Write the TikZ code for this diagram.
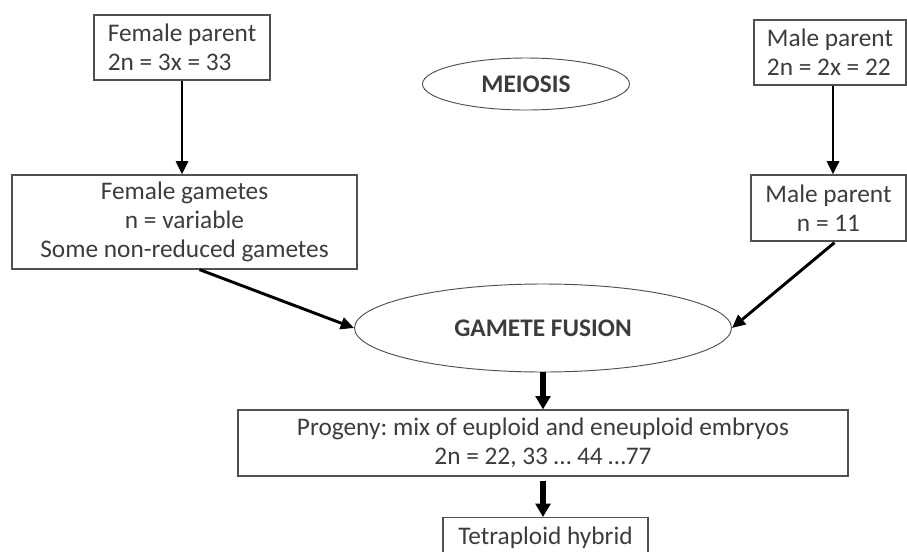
\documentclass[tikz,border=0pt]{standalone}
\usepackage{fontspec}
\setmainfont{Carlito}
\frenchspacing
\usetikzlibrary{shapes.geometric,arrows.meta}

\definecolor{txtgray}{RGB}{60,60,60}
\definecolor{boxgray}{RGB}{80,80,80}

\tikzset{every picture/.style={line width=0.75pt}}
\tikzset{
  boxnode/.style={draw=boxgray, line width=0.9pt, text=txtgray, font=\fontsize{19}{22}\selectfont, inner sep=0pt},
  ovalnode/.style={draw=boxgray, ellipse, line width=0.7pt, text=txtgray, font=\fontsize{19}{22}\selectfont\bfseries, inner sep=0pt},
  thinarrow/.style={line width=2.2pt, -{Triangle[length=10pt,width=9pt]}},
  thickarrow/.style={line width=4.5pt, -{Triangle[length=10pt,width=11pt]}}
}

\begin{document}
\begin{tikzpicture}[x=0.75pt,y=0.75pt,yscale=-1,xscale=1]
\useasboundingbox (0,0) rectangle (907,551);

% Parents
\node [boxnode, minimum width=176*0.75pt, minimum height=65*0.75pt, align=left] (fparent) at (182,47.5) {Female parent\\2n = 3x = 33};
\node [boxnode, minimum width=152*0.75pt, minimum height=65*0.75pt, align=left] (mparent) at (830,52.5) {Male parent\\2n = 2x = 22};

% Meiosis label
\node [ovalnode, minimum width=207*0.75pt, minimum height=52*0.75pt] (meiosis) at (526,84) {MEIOSIS};

% Gametes
\node [boxnode, minimum width=345*0.75pt, minimum height=94*0.75pt, align=center] (fgametes) at (184.5,222) {Female gametes\\n = variable\\Some non-reduced gametes};
\node [boxnode, minimum width=155*0.75pt, minimum height=66*0.75pt, align=center] (mgametes) at (828.5,208) {Male parent\\n = 11};

% Fusion
\node [ovalnode, minimum width=377*0.75pt, minimum height=88*0.75pt] (fusion) at (543,328) {GAMETE FUSION};

% Progeny
\node [boxnode, minimum width=610*0.75pt, minimum height=66*0.75pt, align=center] (progeny) at (543,443) {Progeny: mix of euploid and eneuploid embryos\\2n = 22, 33 \ldots\ 44 \ldots77};
\node [boxnode, minimum width=205*0.75pt, minimum height=40*0.75pt, anchor=north] (hybrid) at (545.5,517) {Tetraploid hybrid};

% Arrows
\draw [thinarrow] (fparent.south) -- (fgametes.north -| fparent.south);
\draw [thinarrow] (mparent.south) ++(3,0) -- (mgametes.north -| 833,0);
\draw [thinarrow] (fgametes.south) ++(15,0) -- (fusion.west);
\draw [thinarrow] (mgametes.south) ++(6,1) -- (fusion.east);
\draw [thickarrow] (fusion.south) -- (progeny.north);
\draw [thickarrow] (progeny.south) ++(0,4) -- (hybrid.north -| progeny.south);
\end{tikzpicture}
\end{document}
